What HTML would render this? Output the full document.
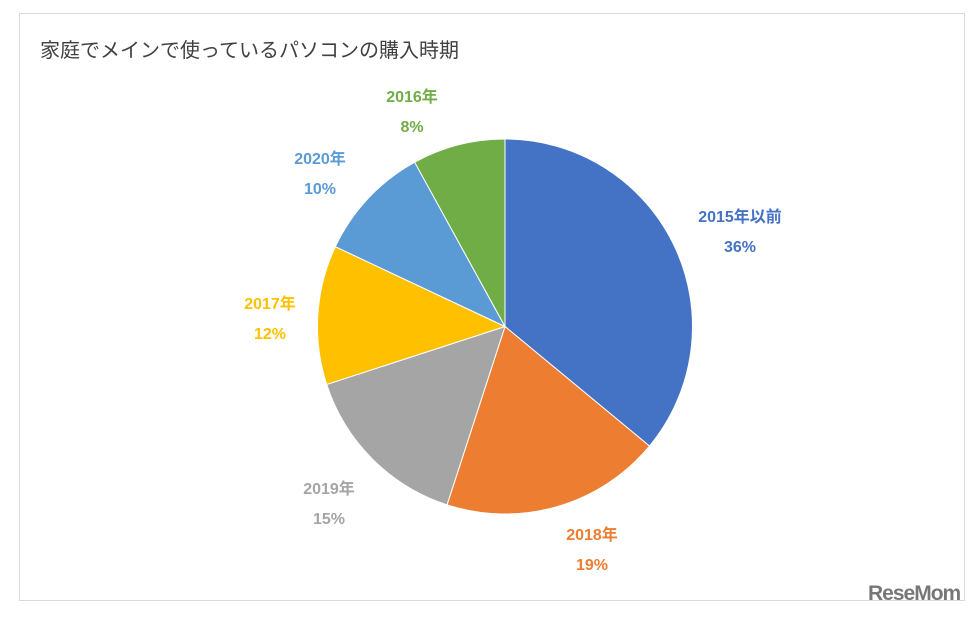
<!DOCTYPE html>
<html><head><meta charset="utf-8"><style>
body{margin:0;width:979px;height:618px;background:#fff;overflow:hidden;font-family:"Liberation Sans","Noto Sans CJK JP",sans-serif;}
#frame{position:absolute;left:19px;top:13px;width:944px;height:586px;border:1px solid #d9d9d9;}
#title{position:absolute;left:40px;top:34px;font-size:20px;color:#404040;}
#logo{position:absolute;left:868px;top:582px;font-size:21px;font-weight:bold;color:#777;letter-spacing:-1px;}
</style></head><body>
<div id="frame"></div>
<div id="title">家庭でメインで使っているパソコンの購入時期</div>
<svg id="chart" width="979" height="618" style="position:absolute;left:0;top:0"></svg>
<div id="logo">ReseMom</div>
<script>
const categories=["2015年以前","2018年","2019年","2017年","2020年","2016年"];
const values=[36,19,15,12,10,8];
const colors=["#4472c4","#ed7d31","#a5a5a5","#ffc000","#5b9bd5","#70ad47"];
const labelPos=[[740,228],[592,546],[329,500],[270,315],[320,170],[412,108]];
const svg=document.getElementById('chart');
const NS='http://www.w3.org/2000/svg';
const cx=505,cy=326.5,r=187.5;
const total=values.reduce((a,b)=>a+b,0);
let a0=0;
values.forEach((v,i)=>{
  const a1=a0+v/total*2*Math.PI;
  const x0=cx+r*Math.sin(a0),y0=cy-r*Math.cos(a0),x1=cx+r*Math.sin(a1),y1=cy-r*Math.cos(a1);
  const p=document.createElementNS(NS,'path');
  p.setAttribute('d',`M${cx},${cy}L${x0},${y0}A${r},${r} 0 ${a1-a0>Math.PI?1:0} 1 ${x1},${y1}Z`);
  p.setAttribute('fill',colors[i]);p.setAttribute('stroke','#fff');p.setAttribute('stroke-width','1');
  
  
  svg.appendChild(p);
  const [lx,ly]=labelPos[i];
  const t=document.createElementNS(NS,'text');
  t.setAttribute('x',lx);t.setAttribute('y',ly);t.setAttribute('text-anchor','middle');
  t.setAttribute('fill',colors[i]);t.setAttribute('font-size','16');t.setAttribute('font-weight','bold');
  t.setAttribute('font-family','"Liberation Sans","Noto Sans CJK JP",sans-serif');
  t.innerHTML=`<tspan x="${lx}" dy="-6">${categories[i]}</tspan><tspan x="${lx}" dy="30">${v}%</tspan>`;
  
  
  svg.appendChild(t);
  a0=a1;
});
</script>
</body></html>
